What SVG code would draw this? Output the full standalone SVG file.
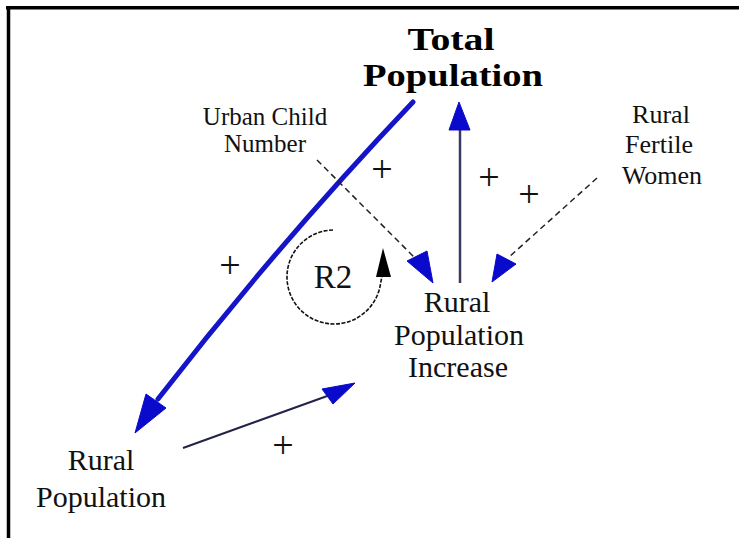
<svg xmlns="http://www.w3.org/2000/svg" width="739" height="538" viewBox="0 0 739 538">
<style>
  .lbl{font-family:"Liberation Serif","Times New Roman",serif;fill:#111;text-anchor:middle}
  .title{font-family:"Liberation Serif","Times New Roman",serif;font-weight:bold;font-size:32px;fill:#000;text-anchor:middle}
  .plus{font-family:"Liberation Serif","Times New Roman",serif;font-size:38px;fill:#111;text-anchor:middle}
  .head{fill:#0a0acc;stroke:#0a0acc;stroke-width:1;stroke-linejoin:round}
  .dash{fill:none;stroke:#222;stroke-width:1.5;stroke-dasharray:6 4}
</style>
<rect x="0" y="0" width="739" height="538" fill="#fff"/>
<g id="frame" stroke="#000" stroke-width="3.5" fill="none">
  <line x1="6" y1="7.7" x2="739" y2="7.7"/>
  <line x1="8.5" y1="6" x2="8.5" y2="538"/>
</g>
<g id="connectors">
  <path d="M413,102 Q278,244 158,399" fill="none" stroke="#1414c8" stroke-width="5" stroke-linecap="round"/>
  <polygon class="head" points="135,433 166,408 146,394"/>
  <line x1="460" y1="283" x2="460" y2="128" stroke="#3a3a5e" stroke-width="2.5"/>
  <polygon class="head" points="459,102 449,130 470,130"/>
  <line class="dash" x1="317" y1="160" x2="415" y2="258"/>
  <polygon class="head" points="433,283 407,261 427,251"/>
  <line class="dash" x1="597" y1="178" x2="508" y2="258"/>
  <polygon class="head" points="492,282 497,254 516,264"/>
  <line x1="183" y1="448" x2="330" y2="395" stroke="#22224a" stroke-width="2"/>
  <polygon class="head" points="355,383 322,389 333,404"/>
  <path d="M333,230 A47,47 0 1 0 380.3,285 L382,276" fill="none" stroke="#111" stroke-width="1.6" stroke-dasharray="4 1.5"/>
  <polygon points="383,248 376,277 391,277" fill="#000"/>
</g>
<g id="loop-R2"><text class="lbl" x="333" y="288" font-size="33">R2</text></g>
<g id="node-total-population">
  <text class="title" x="451" y="50" textLength="87" lengthAdjust="spacingAndGlyphs">Total</text>
  <text class="title" x="453" y="86" textLength="180" lengthAdjust="spacingAndGlyphs">Population</text>
</g>
<g id="node-urban-child-number">
  <text class="lbl" x="265" y="125" font-size="25">Urban Child</text>
  <text class="lbl" x="265" y="152" font-size="25">Number</text>
</g>
<g id="node-rural-fertile-women">
  <text class="lbl" x="661" y="123" font-size="26">Rural</text>
  <text class="lbl" x="659" y="153" font-size="26">Fertile</text>
  <text class="lbl" x="662" y="184" font-size="26">Women</text>
</g>
<g id="node-rural-population-increase">
  <text class="lbl" x="457" y="312" font-size="30">Rural</text>
  <text class="lbl" x="459" y="345" font-size="30">Population</text>
  <text class="lbl" x="458" y="377" font-size="30">Increase</text>
</g>
<g id="node-rural-population">
  <text class="lbl" x="101" y="470" font-size="30">Rural</text>
  <text class="lbl" x="101" y="507" font-size="30">Population</text>
</g>
<g id="polarities">
  <text class="plus" x="382" y="182">+</text>
  <text class="plus" x="230" y="278">+</text>
  <text class="plus" x="489" y="190">+</text>
  <text class="plus" x="529" y="207">+</text>
  <text class="plus" x="283" y="458">+</text>
</g>
</svg>
